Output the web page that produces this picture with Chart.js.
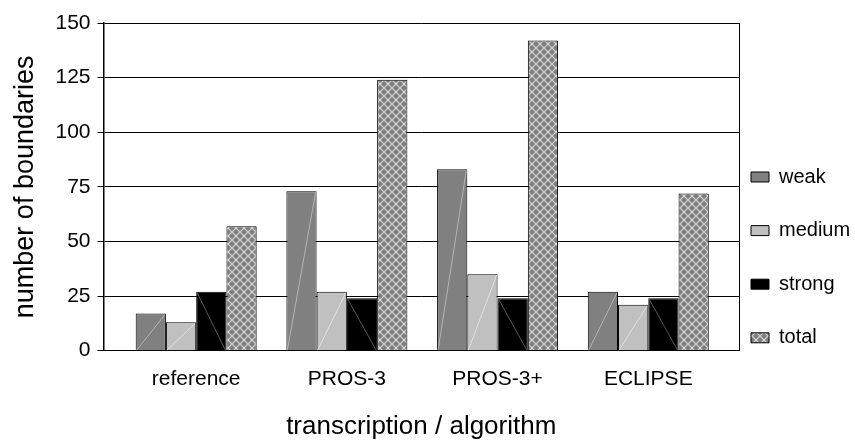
<!DOCTYPE html>
<html>
<head>
<meta charset="utf-8">
<title>number of boundaries</title>
<script src="https://cdn.jsdelivr.net/npm/chart.js@4.4.1/dist/chart.umd.min.js"></script>
<style>
  html, body { margin: 0; padding: 0; background: #fff; }
  #wrap { width: 855px; height: 442px; position: relative; }
</style>
</head>
<body>
<div id="wrap"><canvas id="chart"></canvas></div>
<script>
// Chart data
const categories = ['reference', 'PROS-3', 'PROS-3+', 'ECLIPSE'];
const weak = [17, 73, 83, 27];
const medium = [13, 27, 35, 21];
const strong = [27, 24, 24, 24];
const total = [57, 124, 142, 72];
const yTicks = [0, 25, 50, 75, 100, 125, 150];

// groups sit at 1..4 on a linear x axis (leaves the extra margin at both ends)
const positions = categories.map((c, i) => i + 1);
const xMin = 0.385;
const xMax = 4.602;

function points(values) {
    return values.map((v, i) => ({ x: positions[i], y: v }));
}

// Crosshatch fill used for "total"
function makeHatch() {
    const c = document.createElement('canvas');
    c.width = 8;
    c.height = 8;
    const g = c.getContext('2d');
    g.fillStyle = '#7f7f7f';
    g.fillRect(0, 0, 8, 8);
    g.strokeStyle = '#d4d4d4';
    g.lineWidth = 1.2;
    g.beginPath();
    g.moveTo(0, 0); g.lineTo(8, 8);
    g.moveTo(8, 0); g.lineTo(0, 8);
    g.stroke();
    g.fillStyle = '#ffffff';
    g.fillRect(3.5, 3.5, 1, 1);
    return g.createPattern(c, 'repeat');
}

// Thin diagonal streak across each bar, like the old Excel gradient fills
const diagonalPlugin = {
    id: 'diagonal',
    afterDatasetsDraw(chart) {
        const ctx = chart.ctx;
        chart.data.datasets.forEach((ds, i) => {
            if (!ds.diagonal) return;
            chart.getDatasetMeta(i).data.forEach(bar => {
                const { x, y, base, width } = bar.getProps(['x', 'y', 'base', 'width'], true);
                const left = x - width / 2;
                const right = x + width / 2;
                ctx.save();
                ctx.strokeStyle = ds.diagonal.color;
                ctx.lineWidth = 1;
                ctx.beginPath();
                if (ds.diagonal.dir === 'up') {
                    ctx.moveTo(left + 1, base);
                    ctx.lineTo(right - 1, y + 1);
                } else {
                    ctx.moveTo(left + 1, y + 1);
                    ctx.lineTo(right - 1, base);
                }
                ctx.stroke();
                ctx.restore();
            });
        });
    }
};

Chart.defaults.font.family = "'Liberation Sans', Arial, sans-serif";
Chart.defaults.color = '#000';

// one-line labels given as arrays so the legend uses font.lineHeight for spacing
function legendLabels(chart) {
    const items = Chart.defaults.plugins.legend.labels.generateLabels(chart);
    items.forEach(item => {
        item.text = [item.text];
        item.strokeStyle = '#000';
        item.lineWidth = 1;
    });
    return items;
}

new Chart(document.getElementById('chart'), {
    type: 'bar',
    data: {
        datasets: [
            { label: 'weak', data: points(weak), backgroundColor: '#808080',
              diagonal: { dir: 'up', color: '#b4b4b4' } },
            { label: 'medium', data: points(medium), backgroundColor: '#c0c0c0',
              diagonal: { dir: 'up', color: '#e2e2e2' } },
            { label: 'strong', data: points(strong), backgroundColor: '#000000',
              diagonal: { dir: 'down', color: '#555555' } },
            { label: 'total', data: points(total), backgroundColor: makeHatch() }
        ]
    },
    options: {
        responsive: true,
        maintainAspectRatio: false,
        animation: false,
        layout: { padding: { top: 23 } },
        datasets: {
            bar: {
                categoryPercentage: 0.803,
                barPercentage: 1,
                borderColor: '#000',
                borderWidth: 1
            }
        },
        scales: {
            x: {
                type: 'linear',
                offset: false,
                bounds: 'data',
                afterDataLimits: scale => { scale.min = xMin; scale.max = xMax; },
                afterBuildTicks: scale => { scale.ticks = positions.map(v => ({ value: v })); },
                afterFit: scale => { scale.height = 91.3; },
                grid: { display: false },
                border: { display: true, color: '#000', width: 1 },
                ticks: {
                    autoSkip: false,
                    maxRotation: 0,
                    padding: 8,
                    font: { size: 21 },
                    callback: v => categories[positions.indexOf(v)] || ''
                },
                title: {
                    display: true,
                    text: 'transcription / algorithm',
                    font: { size: 26 },
                    padding: { top: 0, bottom: 0 }
                }
            },
            y: {
                min: 0,
                max: 150,
                afterFit: scale => { scale.width = 103.5; },
                afterBuildTicks: scale => { scale.ticks = yTicks.map(v => ({ value: v })); },
                grid: { color: '#000', lineWidth: 1, tickLength: 6 },
                border: { color: '#000', width: 1.5 },
                ticks: { padding: 7, font: { size: 21 } },
                title: {
                    display: true,
                    text: 'number of boundaries',
                    font: { size: 27 },
                    padding: { top: 9, bottom: 0 }
                }
            },
            // right frame line of the plot area
            y2: {
                position: 'right',
                min: 0,
                max: 150,
                afterFit: scale => { scale.width = 0; },
                grid: { display: false },
                ticks: { display: false },
                border: { display: true, color: '#000', width: 1 }
            }
        },
        plugins: {
            tooltip: { enabled: false },
            legend: {
                position: 'right',
                align: 'start',
                maxWidth: 116,
                title: { display: true, text: '', padding: { top: 117.6, bottom: 0 }, font: { size: 12 } },
                labels: {
                    boxWidth: 18,
                    boxHeight: 10,
                    padding: 12,
                    font: { size: 20, lineHeight: '41.6px' },
                    generateLabels: legendLabels
                }
            }
        }
    },
    plugins: [diagonalPlugin]
});
</script>
</body>
</html>
